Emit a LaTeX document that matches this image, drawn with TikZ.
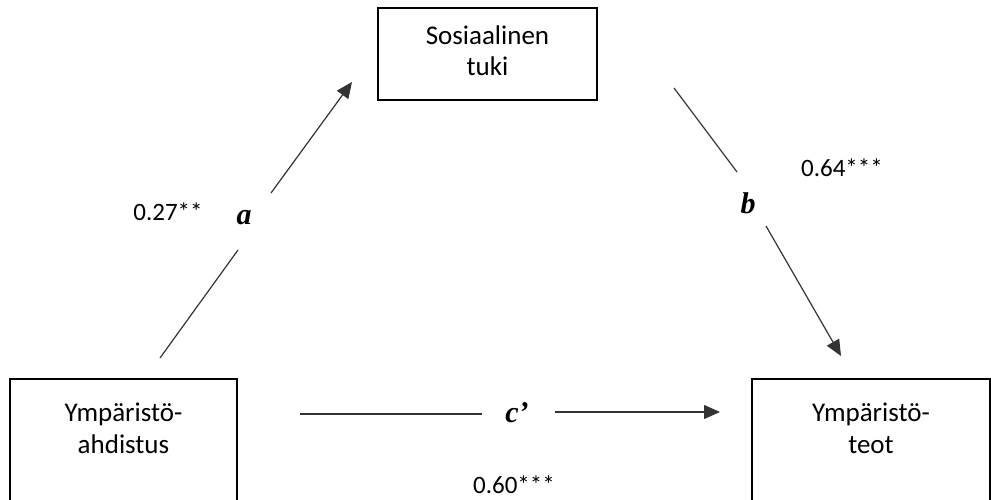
\documentclass[tikz,border=0pt]{standalone}
\usepackage{fontspec}
\setmainfont{Carlito}
\newfontfamily\pathfont{Liberation Serif}
\usetikzlibrary{arrows.meta}

\tikzset{
  varbox/.style={draw, line width=0.9pt, inner sep=0pt},
  vartext/.style={align=center, inner sep=0pt, font=\fontsize{13.5}{15.75}\selectfont},
  pathlbl/.style={inner sep=0pt, font=\pathfont\bfseries\itshape\fontsize{15}{17}\selectfont},
  coef/.style={inner sep=0pt, font=\fontsize{12.5}{14}\selectfont},
  pline/.style={line width=0.6pt, draw=black!80},
  parrow/.style={pline, -{Triangle[length=8pt,width=7pt]}}
}

\begin{document}
\begin{tikzpicture}[x=0.5pt, y=-0.5pt]
    \useasboundingbox (0,0) rectangle (991,499);
    % variables
    \node[varbox, minimum width=109.5pt, minimum height=46pt] (tuki) at (487.5,54) {};
    \node[vartext] (tukitxt) at (487.5,50.5) {Sosiaalinen\\tuki};
    \node[varbox, minimum width=113.5pt, minimum height=63.5pt, anchor=north] (ahd) at (123.5,378) {};
    \node[vartext] (ahdtxt) at (123.5,428.5) {Ympäristö-\\ahdistus};
    \node[varbox, minimum width=119pt, minimum height=63.5pt, anchor=north] (teot) at (871,378) {};
    \node[vartext] (teottxt) at (871,428.5) {Ympäristö-\\teot};
    % path a
    \coordinate (a0) at (160,358);
    \coordinate (a0g) at (238,250);
    \coordinate (a1g) at (271,193);
    \coordinate (a1) at (352,82);
    \draw[pline] (a0) -- (a0g);
    \draw[parrow] (a1g) -- (a1);
    \node[pathlbl] (la) at (244,218) {a};
    \node[coef] (ca) at (168,212) {0.27**};
    % path b
    \coordinate (b0) at (674,88);
    \coordinate (b0g) at (737,172);
    \coordinate (b1g) at (766,226);
    \coordinate (b1) at (841,356);
    \draw[pline] (b0) -- (b0g);
    \draw[parrow] (b1g) -- (b1);
    \node[pathlbl] (lb) at (748,203) {b};
    \node[coef] (cb) at (842,168) {0.64***};
    % path c'
    \coordinate (c0) at (300,414);
    \coordinate (c0g) at (482,414);
    \coordinate (c1g) at (555,412);
    \coordinate (c1) at (720,412);
    \draw[pline] (c0) -- (c0g);
    \draw[parrow] (c1g) -- (c1);
    \node[pathlbl] (lc) at (517,413) {c’};
    \node[coef] (cc) at (514,485) {0.60***};
\end{tikzpicture}
\end{document}
